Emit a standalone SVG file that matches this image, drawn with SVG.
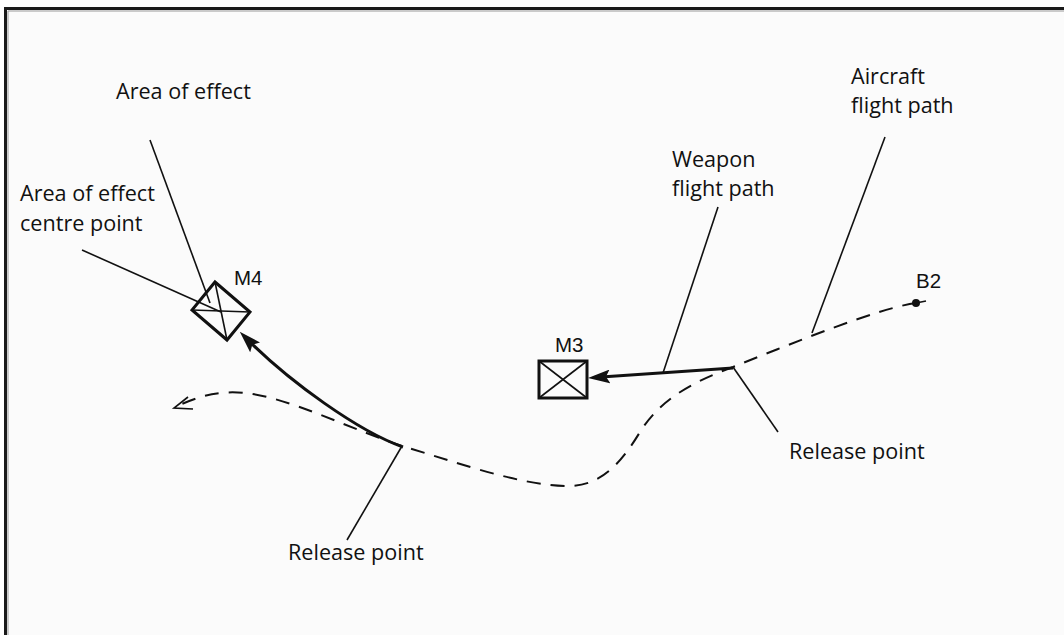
<svg xmlns="http://www.w3.org/2000/svg" width="1064" height="635" viewBox="0 0 1064 635">
<style>
.lbl{font-family:"Open Sans","Liberation Sans",sans-serif;font-size:21.6px;fill:#111}
.code{font-family:"Liberation Sans",Arial,sans-serif;font-size:20.5px;fill:#111}
.leader{stroke:#111;stroke-width:1.6;fill:none}
.dash{stroke:#111;stroke-width:2;fill:none;stroke-dasharray:14 10}
.weapon{stroke:#111;stroke-width:3;fill:none}
.box{stroke:#111;stroke-width:3;fill:none;stroke-linejoin:miter}
.diag{stroke:#111;stroke-width:1.6}
</style>
<defs>
<marker id="ah" viewBox="0 0 22 14" refX="16" refY="7" markerWidth="22" markerHeight="14" markerUnits="userSpaceOnUse" orient="auto">
<path d="M0,0 L22,7 L0,14 L4,7 z" fill="#111"/>
</marker>
</defs>
<rect x="0" y="0" width="1064" height="635" fill="#ffffff"/>
<rect x="7" y="10" width="1064" height="640" fill="#fbfbfb"/>
<path d="M5.5,640 V8.5 H1070" stroke="#1a1a1a" stroke-width="3" fill="none"/>
<path d="M8,640 V11 H1070" stroke="#999" stroke-width="1" fill="none"/>

<g id="connectors">
<path class="dash" d="M916,303 C880,308 800,340 733,367 C690,383 660,400 640,432 C620,465 600,486 568,486 C520,486 450,460 402,446 C340,425 290,398 245,393 C215,390 195,398 175,407"/>
<polyline class="leader" stroke-width="2" points="188,397 174,408 193,409"/>
<line class="leader" x1="916" y1="303" x2="926" y2="301"/>
<path class="weapon" d="M403,447 C360,432 289,382 244,336" marker-end="url(#ah)"/>
<line class="weapon" x1="733" y1="368" x2="594" y2="377.6" marker-end="url(#ah)"/>
<line class="leader" x1="150" y1="140" x2="210" y2="303"/>
<line class="leader" x1="82" y1="250" x2="221" y2="312"/>
<line class="leader" x1="718" y1="207" x2="663" y2="373"/>
<line class="leader" x1="885" y1="137" x2="812" y2="333"/>
<line class="leader" x1="733" y1="367" x2="778" y2="432"/>
<line class="leader" x1="402" y1="446" x2="347" y2="540"/>
</g>

<g id="M4">
<polygon class="box" points="215,282 250,312 227,340 192,310"/>
<line class="diag" x1="215" y1="282" x2="227" y2="340"/>
<line class="diag" x1="192" y1="310" x2="250" y2="312"/>
<text class="code" x="234" y="285">M4</text>
</g>

<g id="M3">
<rect class="box" x="539" y="361" width="48" height="37"/>
<line class="diag" x1="539" y1="361" x2="587" y2="398"/>
<line class="diag" x1="587" y1="361" x2="539" y2="398"/>
<text class="code" x="555" y="352">M3</text>
</g>

<g id="B2">
<circle cx="916" cy="303" r="4" fill="#111"/>
<text class="code" x="916" y="288">B2</text>
</g>

<g id="label-area-of-effect">
<text class="lbl" x="116" y="99">Area of effect</text>
</g>
<g id="label-centre-point">
<text class="lbl" x="20" y="201">Area of effect</text>
<text class="lbl" x="20" y="231">centre point</text>
</g>
<g id="label-weapon-path">
<text class="lbl" x="672" y="167">Weapon</text>
<text class="lbl" x="672" y="196">flight path</text>
</g>
<g id="label-aircraft-path">
<text class="lbl" x="851" y="84">Aircraft</text>
<text class="lbl" x="851" y="113">flight path</text>
</g>
<g id="label-release-right">
<text class="lbl" x="789" y="459">Release point</text>
</g>
<g id="label-release-left">
<text class="lbl" x="288" y="560">Release point</text>
</g>
</svg>
